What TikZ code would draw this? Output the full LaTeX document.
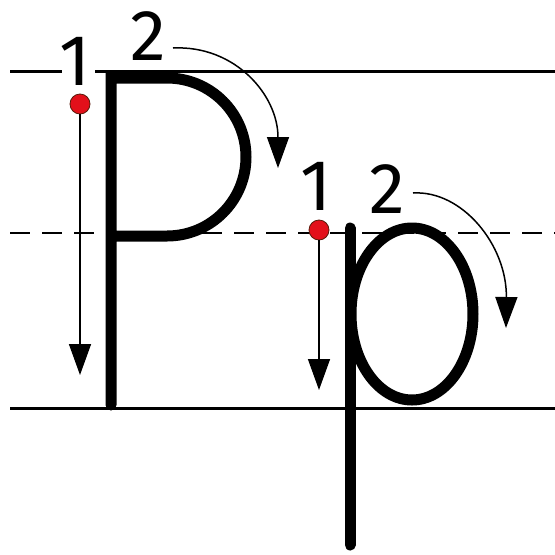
\documentclass[tikz,border=0pt]{standalone}
\usepackage{fontspec}
\setmainfont{Fira Sans}
\usetikzlibrary{arrows.meta}
\definecolor{dotred}{HTML}{E3101A}
\definecolor{dotedge}{HTML}{5A1A0A}
\tikzset{
  ruleline/.style={line width=3pt,black},
  midline/.style={line width=1.5pt,black,dash pattern=on 20pt off 12pt},
  letter/.style={line width=11pt,black,line cap=round,line join=miter},
  strokearrow/.style={-{Triangle[width=22pt,length=31pt]},line width=1.5pt,black},
  startdot/.style={circle,fill=dotred,draw=dotedge,line width=0.8pt,minimum size=20pt,inner sep=0pt},
  stepnum/.style={font=\fontsize{72}{72}\selectfont,inner sep=0pt,anchor=base}
}
\begin{document}
\begin{tikzpicture}[x=1pt,y=-1pt]
  \useasboundingbox (0,0) rectangle (555,555);
  \draw[ruleline] (10,71)--(62,71);
  \draw[ruleline] (95,71)--(555,71);
  \draw[midline] (10,233)--(555,233);
  \draw[ruleline] (10,408)--(555,408);
  \draw[letter] (111,405)--(111,78)--(167,78) arc[start angle=-90,end angle=90,radius=79]--(111,236);
  \draw[letter] (350,228)--(350,545);
  \draw[letter] (412,314) ellipse [x radius=61,y radius=86];
  \node[stepnum] (Pone) at (75,85) {1};
  \node[stepnum] (Ptwo) at (148,60) {2};
  \node[stepnum] (pone) at (316,210) {1};
  \node[stepnum] (ptwo) at (387,213) {2};
  \node[startdot] (Pdot) at (80,104) {};
  \node[startdot] (pdot) at (319,230) {};
  \coordinate (Pend) at (80,375);
  \coordinate (pend) at (319,390);
  \draw[strokearrow] (Pdot)--(Pend);
  \draw[strokearrow] (pdot)--(pend);
  \coordinate (Parc) at (173,48);
  \coordinate (Parcend) at (278,168);
  \coordinate (parc) at (413,193);
  \coordinate (parcend) at (506,328);
  \draw[strokearrow] (Parc) .. controls (235,45) and (278,95) .. (Parcend);
  \draw[strokearrow] (parc) .. controls (462,190) and (507,245) .. (parcend);
\end{tikzpicture}
\end{document}
